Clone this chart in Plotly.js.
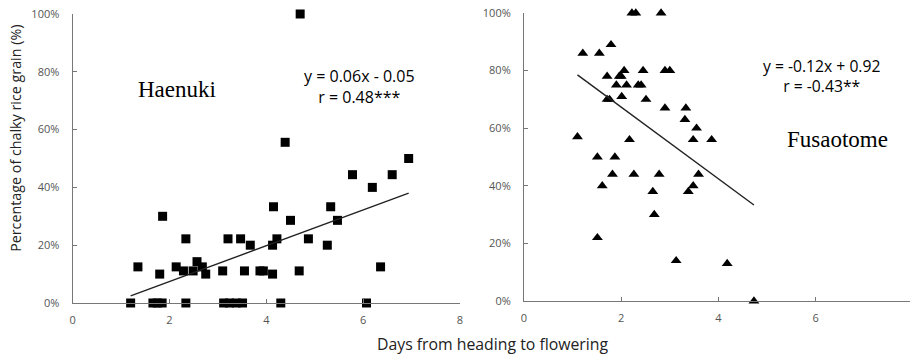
<!DOCTYPE html>
<html><head><meta charset="utf-8">
<script src="https://cdn.plot.ly/plotly-3.0.1.min.js"></script>
<style>html,body{margin:0;padding:0;background:#fff}</style>
</head><body><div id="chart" style="width:910px;height:355px"></div>
<script>
// Haenuki (days, % chalky)
const haenukiX = [1.2,1.35,1.66,1.75,1.85,1.8,1.86,2.14,2.29,2.34,2.34,2.49,2.57,2.68,2.75,3.1,3.21,3.12,3.24,3.38,3.51,3.47,3.55,3.67,3.87,3.94,4.13,4.15,4.13,4.22,4.3,4.39,4.5,4.68,4.7,4.87,5.26,5.33,5.47,5.78,6.07,6.19,6.36,6.6,6.94];
const haenukiY = [0,12.5,0,0,0,10,30,12.5,11.1,22.2,0,11.1,14.3,12.5,10,11.1,22.2,0,0,0,0,22.2,11.1,20,11.1,11.1,10,33.3,20,22.2,0,55.6,28.6,11.1,100,22.2,20,33.3,28.6,44.4,0,40,12.5,44.4,50];
// Fusaotome
const fusaX = [2.22,2.3,2.82,1.21,1.55,1.79,2.06,2.45,2.9,3.0,1.71,1.96,2.0,1.9,2.11,2.35,2.41,1.71,1.76,2.01,2.51,2.9,3.33,3.31,3.55,3.48,3.86,1.1,2.17,1.51,1.87,1.82,2.26,2.78,3.59,1.61,3.48,2.65,3.38,2.68,1.51,3.13,4.18,4.73];
const fusaY = [100,100,100,86,86,89,80,80,80,80,78,78,78,75,75,75,75,70,70,71,70,67,67,63,60,56,56,57,56,50,50,44,44,44,44,40,40,38,38,30,22,14,13,0];
// regression fits (fraction units -> %)
const haenukiFit = {slope: 0.062, intercept: -0.05, xmin: 1.2, xmax: 6.94};
const fusaFit = {slope: -0.1245, intercept: 0.922, xmin: 1.1, xmax: 4.73};
const xTicks = [0,2,4,6,8];
const yTicks = [0,20,40,60,80,100];
const yTickText = yTicks.map(v => v + '%');

function fitLine(f){
  const xs=[f.xmin,f.xmax];
  return {x: xs, y: xs.map(x => (f.slope*x + f.intercept)*100)};
}
const hl = fitLine(haenukiFit), fl = fitLine(fusaFit);

const tickFont = {family:'Open Sans, sans-serif', size:11, color:'#555'};
const data = [
  {x:haenukiX, y:haenukiY, type:'scatter', mode:'markers', xaxis:'x', yaxis:'y',
   marker:{symbol:'square', size:9, color:'#000'}, cliponaxis:false},
  {x:hl.x, y:hl.y, type:'scatter', mode:'lines', xaxis:'x', yaxis:'y', line:{color:'#222', width:1.4}},
  {x:fusaX, y:fusaY, type:'scatter', mode:'markers', xaxis:'x2', yaxis:'y2',
   marker:{symbol:'triangle-up', size:9.5, color:'#000'}, cliponaxis:false},
  {x:fl.x, y:fl.y, type:'scatter', mode:'lines', xaxis:'x2', yaxis:'y2', line:{color:'#222', width:1.4}}
];
const xBase = {showgrid:false, zeroline:false, showline:true, linecolor:'#777', linewidth:1,
  ticks:'inside', ticklen:4, tickcolor:'#777', tickvals:xTicks, tickfont:tickFont, ticklabelstandoff:7, fixedrange:true};
const yBase = {showgrid:false, zeroline:false, showline:true, linecolor:'#777', linewidth:1,
  ticks:'inside', ticklen:4, tickcolor:'#777', tickvals:yTicks, ticktext:yTickText, tickfont:tickFont, ticklabelstandoff:10, range:[0,100]};
const layout = {
  width:910, height:355, showlegend:false,
  margin:{l:0, r:0, t:13, b:52},
  paper_bgcolor:'#fff', plot_bgcolor:'#fff',
  xaxis:Object.assign({}, xBase, {domain:[0.0797,0.5055], range:[0,8]}),
  yaxis:Object.assign({}, yBase, {domain:[0,0.9966], anchor:'x'}),
  xaxis2:Object.assign({}, xBase, {domain:[0.5758,1], range:[0,7.94], anchor:'y2', tickvals:[0,2,4,6]}),
  yaxis2:Object.assign({}, yBase, {domain:[0.0069,1], anchor:'x2'}),
  annotations:[
    {text:'Percentage of chalky rice grain (%)', xref:'paper', yref:'paper', x:0, y:0.566, xanchor:'center', yanchor:'middle',
     xshift:16, textangle:-90, showarrow:false, font:{family:'Open Sans, sans-serif', size:14.3, color:'#222'}},
    {text:'Days from heading to flowering', xref:'paper', yref:'paper', x:0.541, y:0, yshift:-41, xanchor:'center', yanchor:'middle',
     showarrow:false, font:{family:'Open Sans, sans-serif', size:15.8, color:'#222'}},
    {text:'Haenuki', xref:'x', yref:'y', x:2.15, y:74, showarrow:false, font:{family:'Liberation Serif, serif', size:23, color:'#000'}},
    {text:'y = 0.06x - 0.05<br>r = 0.48***', xref:'x', yref:'y', x:5.92, y:75, showarrow:false, align:'center',
     font:{family:'Open Sans, sans-serif', size:16, color:'#000'}},
    {text:'Fusaotome', xref:'x2', yref:'y2', x:6.45, y:56, showarrow:false, font:{family:'Liberation Serif, serif', size:23, color:'#000'}},
    {text:'y = -0.12x + 0.92<br>r = -0.43**', xref:'x2', yref:'y2', x:6.13, y:78, showarrow:false, align:'center',
     font:{family:'Open Sans, sans-serif', size:15.7, color:'#000'}}
  ]
};
Plotly.newPlot('chart', data, layout, {displayModeBar:false, staticPlot:true});
</script></body></html>
